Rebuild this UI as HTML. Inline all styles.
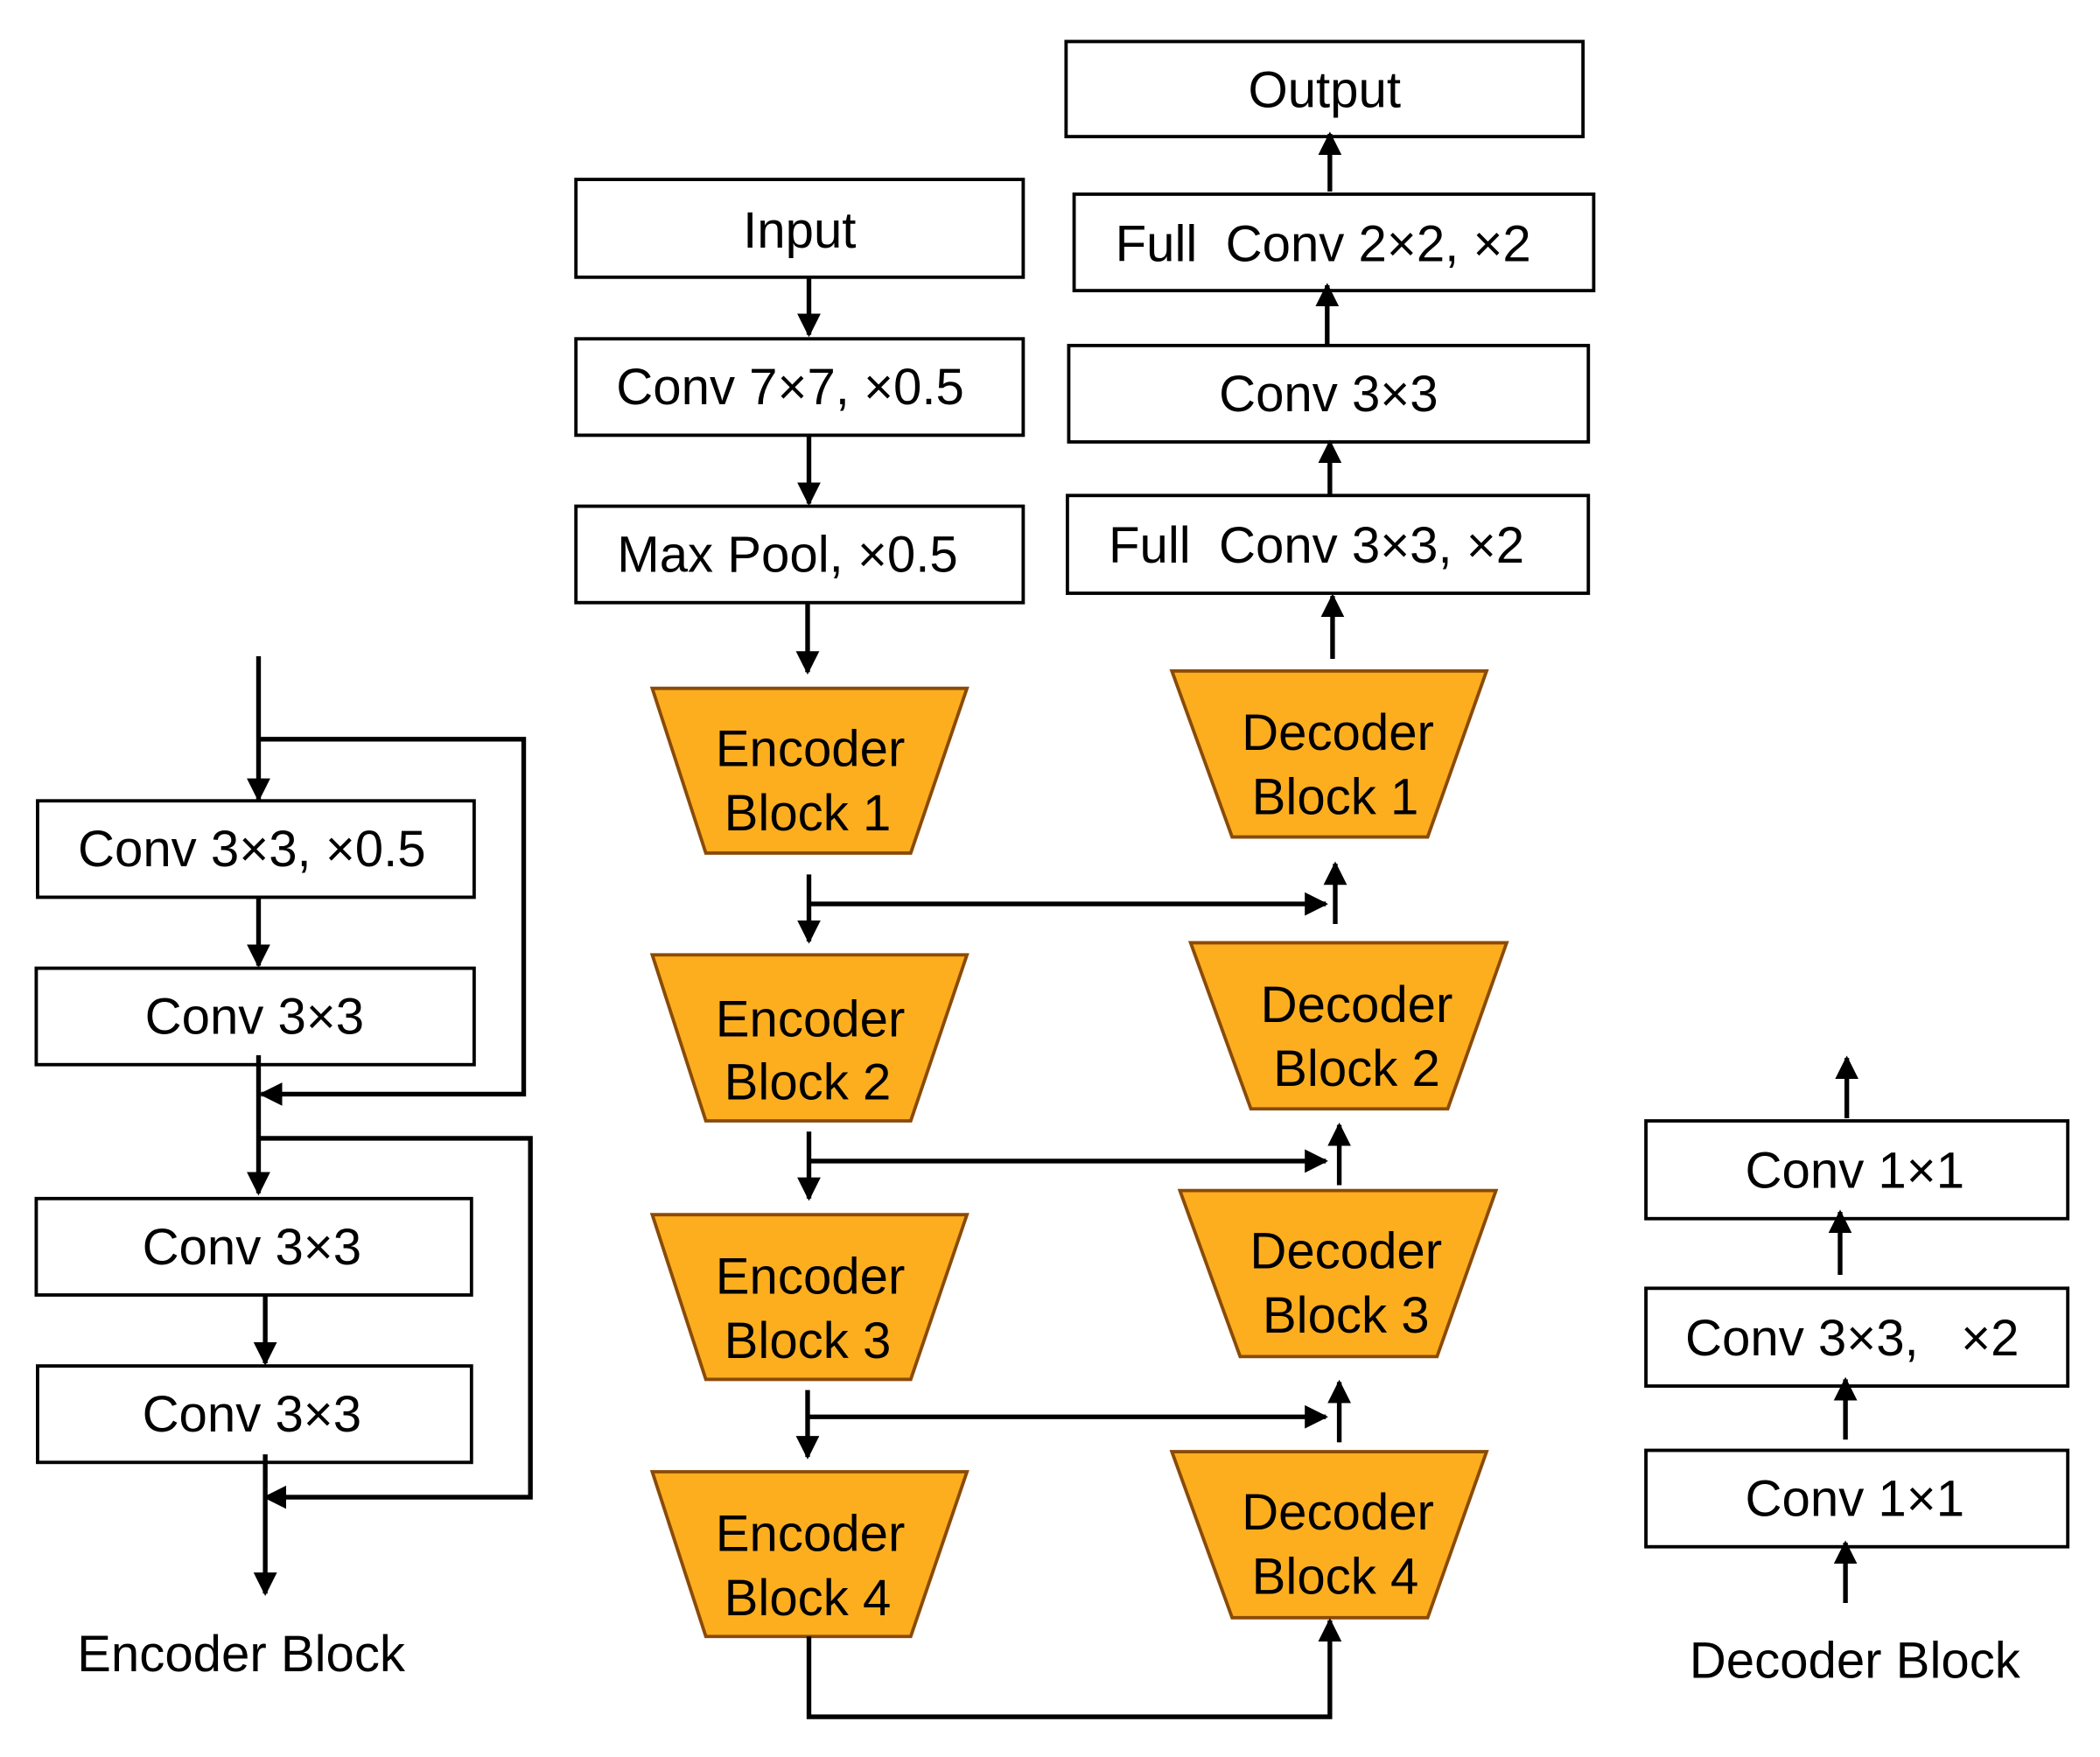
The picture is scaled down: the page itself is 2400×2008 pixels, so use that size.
<!DOCTYPE html>
<html><head><meta charset="utf-8"><style>
html,body{margin:0;padding:0;background:#fff;}
svg{display:block;}
text{font-family:"Liberation Sans",Arial,sans-serif;font-size:38px;fill:#000;text-anchor:middle;}
</style></head><body>
<svg width="2400" height="2008" viewBox="0 0 1568 1312" xmlns="http://www.w3.org/2000/svg">
<defs>
<marker id="a" viewBox="0 0 10 10" refX="9" refY="5" markerWidth="5" markerHeight="5" orient="auto" markerUnits="strokeWidth"><path d="M0,0 L10,5 L0,10 z" fill="#000"/></marker>
</defs>
<g fill="#fff" stroke="#000" stroke-width="2.5">
<rect x="430" y="134" width="334" height="73"/>
<rect x="430" y="253" width="334" height="72"/>
<rect x="430" y="378" width="334" height="72"/>
<rect x="796" y="31" width="386" height="71"/>
<rect x="802" y="145" width="388" height="72"/>
<rect x="798" y="258" width="388" height="72"/>
<rect x="797" y="370" width="389" height="73"/>
<rect x="28" y="598" width="326" height="72"/>
<rect x="27" y="723" width="327" height="72"/>
<rect x="27" y="895" width="325" height="72"/>
<rect x="28" y="1020" width="324" height="72"/>
<rect x="1229" y="837" width="315" height="73"/>
<rect x="1229" y="962" width="315" height="73"/>
<rect x="1229" y="1083" width="315" height="72"/>
</g>
<g fill="#FDAE1F" stroke="#8A4B08" stroke-width="2.5">
<polygon points="487,514 722,514 680,637 527,637"/>
<polygon points="487,713 722,713 680,837 527,837"/>
<polygon points="487,907 722,907 680,1030 527,1030"/>
<polygon points="487,1099 722,1099 680,1222 527,1222"/>
<polygon points="875,501 1110,501 1066,625 920,625"/>
<polygon points="889,704 1125,704 1081,828 934,828"/>
<polygon points="881,889 1117,889 1073,1013 926,1013"/>
<polygon points="875,1084 1110,1084 1066,1208 920,1208"/>
</g>
<g stroke="#000" stroke-width="3.5" fill="none" marker-end="url(#a)">
<line x1="604" y1="207" x2="604" y2="250"/>
<line x1="604" y1="325" x2="604" y2="376"/>
<line x1="603" y1="450" x2="603" y2="502"/>
<line x1="993" y1="143" x2="993" y2="100"/>
<line x1="991" y1="257" x2="991" y2="213"/>
<line x1="993" y1="370" x2="993" y2="330"/>
<line x1="995" y1="492" x2="995" y2="445"/>
<line x1="604" y1="653" x2="604" y2="703"/>
<line x1="604" y1="675" x2="990" y2="675"/>
<line x1="997" y1="690" x2="997" y2="645"/>
<line x1="604" y1="845" x2="604" y2="895"/>
<line x1="604" y1="867" x2="990" y2="867"/>
<line x1="1000" y1="885" x2="1000" y2="840"/>
<line x1="603" y1="1038" x2="603" y2="1088"/>
<line x1="603" y1="1058" x2="990" y2="1058"/>
<line x1="1000" y1="1077" x2="1000" y2="1032"/>
<polyline points="604,1222 604,1282 993,1282 993,1210"/>
<line x1="193" y1="490" x2="193" y2="597"/>
<polyline points="193,552 391,552 391,817 195,817"/>
<line x1="193" y1="670" x2="193" y2="721"/>
<line x1="193" y1="788" x2="193" y2="891"/>
<polyline points="193,850 396,850 396,1118 198,1118"/>
<line x1="198" y1="967" x2="198" y2="1018"/>
<line x1="198" y1="1086" x2="198" y2="1190"/>
<line x1="1379" y1="835" x2="1379" y2="790"/>
<line x1="1374" y1="952" x2="1374" y2="905"/>
<line x1="1378" y1="1075" x2="1378" y2="1030"/>
<line x1="1378" y1="1197" x2="1378" y2="1152"/>
</g>
<text x="597" y="185">Input</text>
<text x="590" y="302">Conv 7×7, ×0.5</text>
<text x="588" y="427">Max Pool, ×0.5</text>
<text x="989" y="80">Output</text>
<text x="988" y="195">Full&#160;&#160;Conv 2×2, ×2</text>
<text x="983" y="420">Full&#160;&#160;Conv 3×3, ×2</text>
<text x="992" y="307">Conv 3×3</text>
<text x="605" y="572">Encoder</text><text x="603" y="620">Block 1</text>
<text x="605" y="774">Encoder</text><text x="603" y="821">Block 2</text>
<text x="605" y="966">Encoder</text><text x="603" y="1014">Block 3</text>
<text x="605" y="1158">Encoder</text><text x="603" y="1206">Block 4</text>
<text x="999" y="560">Decoder</text><text x="997" y="608">Block 1</text>
<text x="1013" y="763">Decoder</text><text x="1013" y="811">Block 2</text>
<text x="1005" y="947">Decoder</text><text x="1005" y="995">Block 3</text>
<text x="999" y="1142">Decoder</text><text x="997" y="1190">Block 4</text>
<text x="188" y="647">Conv 3×3, ×0.5</text>
<text x="190" y="772">Conv 3×3</text>
<text x="188" y="944">Conv 3×3</text>
<text x="188" y="1069">Conv 3×3</text>
<text x="180" y="1248">Encoder Block</text>
<text x="1385" y="887">Conv 1×1</text>
<text x="1383" y="1012">Conv 3×3,&#160;&#160;&#160;×2</text>
<text x="1385" y="1132">Conv 1×1</text>
<text x="1385" y="1253">Decoder Block</text>
</svg>
</body></html>
